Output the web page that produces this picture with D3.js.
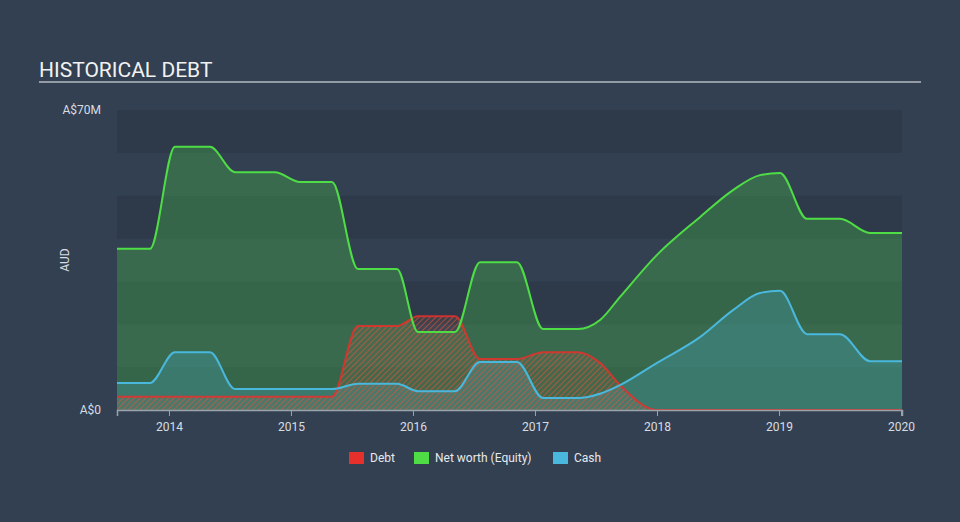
<!DOCTYPE html>
<html><head><meta charset="utf-8">
<script src="https://cdn.jsdelivr.net/npm/d3@7"></script>
<style>
html,body{margin:0;padding:0;background:#334051;}
svg{display:block;font-family:Roboto, "Open Sans", sans-serif;}
</style></head>
<body><svg id="c" width="960" height="522"></svg>
<script>
// ---- data (values in A$ millions, dates in fractional years) ----
const dates = [2013.574, 2013.844, 2014.049, 2014.336, 2014.541, 2014.869, 2015.074, 2015.336, 2015.549, 2015.869, 2016.041, 2016.344, 2016.549, 2016.852, 2017.066, 2017.352, 2017.533, 2017.697, 2018.0, 2018.352, 2018.623, 2018.844, 2019.008, 2019.230, 2019.500, 2019.746, 2020.008];
const netWorth = [37.6, 37.6, 61.4, 61.4, 55.5, 55.5, 53.2, 53.2, 32.9, 32.9, 18.2, 18.2, 34.5, 34.5, 18.9, 18.9, 21.0, 26.4, 36.2, 45.0, 51.3, 54.8, 55.3, 44.6, 44.6, 41.3, 41.3];
const cash     = [6.3, 6.3, 13.5, 13.5, 4.9, 4.9, 4.9, 4.9, 6.1, 6.1, 4.4, 4.4, 11.2, 11.2, 2.8, 2.8, 3.8, 5.8, 11.0, 17.0, 23.3, 27.3, 27.8, 17.7, 17.7, 11.4, 11.4];
const debt     = [3.1, 3.1, 3.1, 3.1, 3.1, 3.1, 3.1, 3.1, 19.6, 19.6, 21.9, 21.9, 11.9, 11.9, 13.5, 13.5, 11.0, 5.8, 0, 0, 0, 0, 0, 0, 0, 0, 0];
const xTicks = [2014, 2015, 2016, 2017, 2018, 2019, 2020];
const yTickValues = [0, 70];
const yTickLabels = ["A$0", "A$70M"];
const legendNames = ["Debt", "Net worth (Equity)", "Cash"];
const legendColors = ["#e5302b", "#4fdd46", "#4ab8dd"];

const svg = d3.select("#c");
const L = 117, R = 902, T = 110, B = 410;
const x = d3.scaleLinear().domain([dates[0], dates[dates.length-1]]).range([L, R]);
const y = d3.scaleLinear().domain([0, 70]).range([B, T]);

// title
svg.append("text").attr("x", 39).attr("y", 77).attr("fill", "#f2f2f2")
  .attr("font-size", 21).text("HISTORICAL DEBT");
svg.append("line").attr("x1", 39).attr("x2", 921).attr("y1", 82).attr("y2", 82)
  .attr("stroke", "#b5bac1").attr("stroke-width", 1.5);

// background bands
const bands = d3.range(0, 70, 10);
svg.append("g").selectAll("rect").data(bands).join("rect")
  .attr("x", L).attr("width", R - L)
  .attr("y", d => y(d + 10)).attr("height", d => y(d) - y(d + 10))
  .attr("fill", d => (d / 10) % 2 === 0 ? "#2e3a4a" : "#324052");

// hatch pattern
const defs = svg.append("defs");
const pat = defs.append("pattern").attr("id", "hatch").attr("patternUnits", "userSpaceOnUse")
  .attr("width", 4).attr("height", 4).attr("patternTransform", "rotate(45)");
pat.append("rect").attr("width", 4).attr("height", 4).attr("fill", "rgba(200,110,80,0.12)");
pat.append("line").attr("x1", 0).attr("y1", 0).attr("x2", 0).attr("y2", 4)
  .attr("stroke", "#e0553a").attr("stroke-width", 1.6).attr("stroke-opacity", 0.75);

const curve = d3.curveMonotoneX;
const pts = vals => vals.map((v, i) => [dates[i], v]);
const area = d3.area().x(d => x(d[0])).y0(y(0)).y1(d => y(d[1])).curve(curve);
const line = d3.line().x(d => x(d[0])).y(d => y(d[1])).curve(curve);

// areas
svg.append("path").attr("d", area(pts(netWorth))).attr("fill", "#4fdd46").attr("fill-opacity", 0.27);
svg.append("path").attr("d", area(pts(cash))).attr("fill", "#4ab8dd").attr("fill-opacity", 0.24);
svg.append("path").attr("d", area(pts(debt))).attr("fill", "url(#hatch)");

// lines
svg.append("path").attr("d", line(pts(debt))).attr("fill", "none").attr("stroke", "#e5302b").attr("stroke-width", 2).attr("stroke-opacity", 0.85);
svg.append("path").attr("d", line(pts(netWorth))).attr("fill", "none").attr("stroke", "#4fdd46").attr("stroke-width", 2);
svg.append("path").attr("d", line(pts(cash))).attr("fill", "none").attr("stroke", "#4ab8dd").attr("stroke-width", 2);

// x axis
const xa = svg.append("g").attr("transform", `translate(0,${B})`)
  .call(d3.axisBottom(x).tickValues(xTicks).tickFormat(d3.format("d")).tickSize(6).tickPadding(6));
xa.select(".domain").attr("stroke", "#9aa3ad").attr("stroke-width", 1.5);
xa.selectAll(".tick line").attr("stroke", "#9aa3ad");
xa.selectAll("text").attr("fill", "#d9dde2").attr("font-size", 12).attr("font-family", "Roboto, sans-serif");

// y labels
svg.append("g").selectAll("text").data(yTickValues).join("text")
  .attr("x", 101).attr("y", d => y(d)).attr("dy", "0.35em").attr("text-anchor", "end")
  .attr("fill", "#d9dde2").attr("font-size", 12).text((d, i) => yTickLabels[i]);
svg.append("text").attr("transform", `translate(69,${(T + B) / 2}) rotate(-90)`)
  .attr("text-anchor", "middle").attr("fill", "#d9dde2").attr("font-size", 12).text("AUD");

// legend
const legX = [349, 414, 553];
const lg = svg.append("g").selectAll("g").data(legendNames).join("g")
  .attr("transform", (d, i) => `translate(${legX[i]},452)`);
lg.append("rect").attr("width", 15).attr("height", 12).attr("fill", (d, i) => legendColors[i]);
lg.append("text").attr("x", 21).attr("y", 6).attr("dy", "0.35em").attr("fill", "#e6e9ec")
  .attr("font-size", 12).text(d => d);
</script></body></html>
